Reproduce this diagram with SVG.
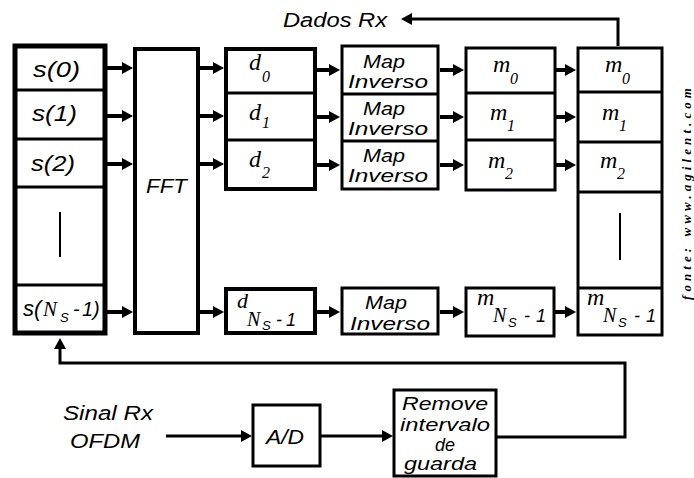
<svg xmlns="http://www.w3.org/2000/svg" width="694" height="478" viewBox="0 0 694 478">
<style>
.box{fill:#fff;stroke:#000;stroke-width:3}
.thick{stroke-width:5}
.med{stroke-width:4}
.div{stroke:#000;stroke-width:3}
.bar{stroke:#000;stroke-width:2}
.sans{font-family:"Liberation Sans",Arial,sans-serif;font-style:italic;fill:#000}
.ser{font-family:"Liberation Serif","Times New Roman",serif;font-style:italic;fill:#000}
.c{fill:none;stroke:#000;stroke-width:4}
.cf{fill:none;stroke:#000;stroke-width:3}
</style>
<defs>
<marker id="ah" markerUnits="userSpaceOnUse" markerWidth="11" markerHeight="12" refX="0" refY="6" orient="auto" viewBox="0 0 11 12">
<path d="M0,0 L11,6 L0,12 z" fill="#000"/>
</marker>
</defs>
<rect width="694" height="478" fill="#fff"/>

<g id="s-col">
<rect class="box thick" x="15" y="46" width="90" height="287"/>
<line class="div" x1="15" y1="90" x2="105" y2="90"/>
<line class="div" x1="15" y1="139" x2="105" y2="139"/>
<line class="div" x1="15" y1="187" x2="105" y2="187"/>
<line class="div" x1="15" y1="285" x2="105" y2="285"/>
<line class="bar" x1="60" y1="212" x2="60" y2="257"/>
<text class="sans" x="33" y="77" font-size="22" textLength="47" lengthAdjust="spacingAndGlyphs">s(0)</text>
<text class="sans" x="32" y="121" font-size="22" textLength="45" lengthAdjust="spacingAndGlyphs">s(1)</text>
<text class="sans" x="31" y="171" font-size="22" textLength="44" lengthAdjust="spacingAndGlyphs">s(2)</text>
<text class="sans" font-size="22"><tspan x="23" y="316">s(</tspan><tspan class="ser" x="43" y="316" font-size="21">N</tspan><tspan x="60" y="322" font-size="13">S</tspan><tspan x="73" y="316" font-size="20">-</tspan><tspan x="82" y="316" font-size="20">1)</tspan></text>
</g>

<g id="fft">
<rect class="box med" x="135" y="49" width="63" height="284"/>
<text class="sans" x="146" y="193" font-size="20" textLength="41" lengthAdjust="spacingAndGlyphs">FFT</text>
</g>

<g id="d-col">
<rect class="box med" x="226" y="49" width="89" height="140"/>
<line class="div" x1="226" y1="93" x2="315" y2="93"/>
<line class="div" x1="226" y1="140" x2="315" y2="140"/>
<text class="ser" font-size="24"><tspan x="249" y="70">d</tspan><tspan x="262" y="82" font-size="16">0</tspan></text>
<text class="ser" font-size="24"><tspan x="249" y="120">d</tspan><tspan x="262" y="128" font-size="16">1</tspan></text>
<text class="ser" font-size="24"><tspan x="249" y="167">d</tspan><tspan x="262" y="178" font-size="16">2</tspan></text>
</g>

<g id="d-last">
<rect class="box med" x="226" y="289" width="89" height="44"/>
<text class="ser" font-size="22"><tspan x="237" y="308">d</tspan><tspan x="247" y="326" font-size="20">N</tspan><tspan class="sans" x="262" y="330" font-size="13">S</tspan><tspan class="sans" x="276" y="326" font-size="18">-</tspan><tspan class="sans" x="286" y="326" font-size="18">1</tspan></text>
</g>

<g id="map-col">
<rect class="box" x="342" y="46" width="96" height="143"/>
<line class="div" x1="342" y1="94" x2="438" y2="94"/>
<line class="div" x1="342" y1="141" x2="438" y2="141"/>
<text class="sans" x="363" y="68" font-size="19" textLength="42" lengthAdjust="spacingAndGlyphs">Map</text>
<text class="sans" x="348" y="88" font-size="19" textLength="80" lengthAdjust="spacingAndGlyphs">Inverso</text>
<text class="sans" x="363" y="115" font-size="19" textLength="42" lengthAdjust="spacingAndGlyphs">Map</text>
<text class="sans" x="348" y="135" font-size="19" textLength="80" lengthAdjust="spacingAndGlyphs">Inverso</text>
<text class="sans" x="363" y="162" font-size="19" textLength="42" lengthAdjust="spacingAndGlyphs">Map</text>
<text class="sans" x="348" y="182" font-size="19" textLength="80" lengthAdjust="spacingAndGlyphs">Inverso</text>
</g>

<g id="map-last">
<rect class="box" x="342" y="288" width="96" height="46"/>
<text class="sans" x="365" y="309" font-size="19" textLength="42" lengthAdjust="spacingAndGlyphs">Map</text>
<text class="sans" x="350" y="330" font-size="19" textLength="80" lengthAdjust="spacingAndGlyphs">Inverso</text>
</g>

<g id="m-col">
<rect class="box" x="466" y="48" width="89" height="142"/>
<line class="div" x1="466" y1="93" x2="555" y2="93"/>
<line class="div" x1="466" y1="140" x2="555" y2="140"/>
<text class="ser" font-size="24"><tspan x="493" y="72">m</tspan><tspan x="510" y="84" font-size="16">0</tspan></text>
<text class="ser" font-size="24"><tspan x="490" y="120">m</tspan><tspan x="507" y="131" font-size="16">1</tspan></text>
<text class="ser" font-size="24"><tspan x="488" y="168">m</tspan><tspan x="505" y="179" font-size="16">2</tspan></text>
</g>

<g id="m-last">
<rect class="box" x="466" y="288" width="88" height="48"/>
<text class="ser" font-size="24"><tspan x="477" y="305">m</tspan><tspan x="493" y="322" font-size="20">N</tspan><tspan class="sans" x="508" y="327" font-size="13">S</tspan><tspan class="sans" x="524" y="322" font-size="18">-</tspan><tspan class="sans" x="536" y="322" font-size="18">1</tspan></text>
</g>

<g id="out-col">
<rect class="box" x="578" y="48" width="84" height="287"/>
<line class="div" x1="578" y1="92" x2="662" y2="92"/>
<line class="div" x1="578" y1="142" x2="662" y2="142"/>
<line class="div" x1="578" y1="192" x2="662" y2="192"/>
<line class="div" x1="578" y1="288" x2="662" y2="288"/>
<line class="bar" x1="620" y1="213" x2="620" y2="260"/>
<text class="ser" font-size="24"><tspan x="605" y="72">m</tspan><tspan x="622" y="84" font-size="16">0</tspan></text>
<text class="ser" font-size="24"><tspan x="602" y="120">m</tspan><tspan x="619" y="131" font-size="16">1</tspan></text>
<text class="ser" font-size="24"><tspan x="600" y="168">m</tspan><tspan x="617" y="179" font-size="16">2</tspan></text>
<text class="ser" font-size="24"><tspan x="587" y="305">m</tspan><tspan x="603" y="322" font-size="20">N</tspan><tspan class="sans" x="618" y="327" font-size="13">S</tspan><tspan class="sans" x="634" y="322" font-size="18">-</tspan><tspan class="sans" x="646" y="322" font-size="18">1</tspan></text>
</g>

<g id="ad">
<rect class="box" x="253" y="405" width="67" height="61"/>
<text class="sans" x="266" y="444" font-size="20" textLength="38" lengthAdjust="spacingAndGlyphs">A/D</text>
</g>

<g id="remove">
<rect class="box" x="394" y="390" width="102" height="86"/>
<text class="sans" x="402" y="410" font-size="18" textLength="86" lengthAdjust="spacingAndGlyphs">Remove</text>
<text class="sans" x="400" y="431" font-size="18" textLength="90" lengthAdjust="spacingAndGlyphs">intervalo</text>
<text class="sans" x="445" y="451" font-size="18" text-anchor="middle">de</text>
<text class="sans" x="404" y="470" font-size="18" textLength="73" lengthAdjust="spacingAndGlyphs">guarda</text>
</g>

<g id="labels">
<text class="sans" x="283" y="27" font-size="20" textLength="104" lengthAdjust="spacingAndGlyphs">Dados Rx</text>
<text class="sans" x="63" y="420" font-size="20" textLength="90" lengthAdjust="spacingAndGlyphs">Sinal Rx</text>
<text class="sans" x="70" y="448" font-size="20" textLength="70" lengthAdjust="spacingAndGlyphs">OFDM</text>
<text class="ser" font-size="13" font-weight="bold" transform="translate(691,300) rotate(-90)" textLength="212" lengthAdjust="spacing">fonte: www.agilent.com</text>
</g>

<g id="connectors">
<path class="c" marker-end="url(#ah)" d="M107,68 H122"/>
<path class="c" marker-end="url(#ah)" d="M107,116 H122"/>
<path class="c" marker-end="url(#ah)" d="M107,164 H122"/>
<path class="c" marker-end="url(#ah)" d="M107,312 H122"/>
<path class="c" marker-end="url(#ah)" d="M200,68 H213"/>
<path class="c" marker-end="url(#ah)" d="M200,116 H213"/>
<path class="c" marker-end="url(#ah)" d="M200,164 H213"/>
<path class="c" marker-end="url(#ah)" d="M200,312 H213"/>
<path class="c" marker-end="url(#ah)" d="M317,70 H329"/>
<path class="c" marker-end="url(#ah)" d="M317,117 H329"/>
<path class="c" marker-end="url(#ah)" d="M317,165 H329"/>
<path class="c" marker-end="url(#ah)" d="M317,312 H329"/>
<path class="c" marker-end="url(#ah)" d="M440,70 H453"/>
<path class="c" marker-end="url(#ah)" d="M440,117 H453"/>
<path class="c" marker-end="url(#ah)" d="M440,165 H453"/>
<path class="c" marker-end="url(#ah)" d="M440,312 H453"/>
<path class="c" marker-end="url(#ah)" d="M556,70 H565"/>
<path class="c" marker-end="url(#ah)" d="M556,117 H565"/>
<path class="c" marker-end="url(#ah)" d="M556,165 H565"/>
<path class="c" marker-end="url(#ah)" d="M555,312 H565"/>
<path class="cf" marker-end="url(#ah)" d="M618,46 V19 H412"/>
<path class="cf" marker-end="url(#ah)" d="M496,437 H625 V363 H60 V349"/>
<path class="cf" marker-end="url(#ah)" d="M166,436 H241"/>
<path class="cf" marker-end="url(#ah)" d="M320,436 H382"/>
</g>
</svg>
